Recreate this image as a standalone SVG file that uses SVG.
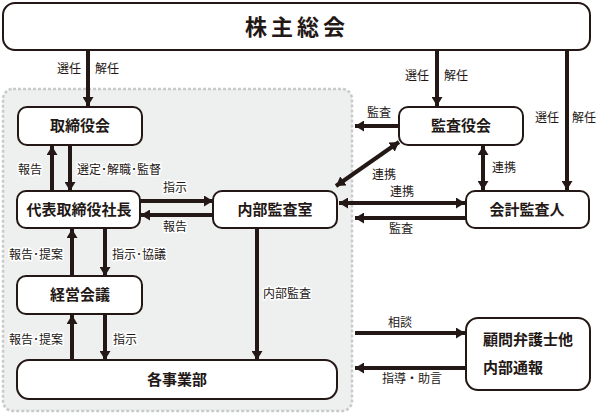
<svg xmlns="http://www.w3.org/2000/svg" width="600" height="415" viewBox="0 0 600 415">
<style>
.box{fill:#fff;stroke:#231815;stroke-width:2}
.ln{fill:none;stroke:#231815;stroke-width:4}
.t{font-family:"Noto Sans CJK JP","Noto Sans",sans-serif;font-weight:bold;font-size:15px;fill:#231815;text-anchor:middle}
.lb{font-family:"Noto Sans CJK JP","Noto Sans",sans-serif;font-size:12px;fill:#231815;stroke:#fff;stroke-width:3;paint-order:stroke;stroke-linejoin:round}
.e{text-anchor:end}
</style>
<defs>
<marker id="ah" viewBox="0 0 9 11" refX="9" refY="5.5" markerWidth="9" markerHeight="11" markerUnits="userSpaceOnUse" orient="auto-start-reverse">
<path d="M0,0 L9,5.5 L0,11 z" fill="#231815"/>
</marker>
</defs>
<rect x="3" y="89" width="349" height="322" rx="10" fill="#eeefef" stroke="#c9caca" stroke-width="2.5" stroke-dasharray="3 2"/>
<g id="connectors">
<path class="ln" d="M88,50 V106" marker-end="url(#ah)"/>
<path class="ln" d="M437,50 V106" marker-end="url(#ah)"/>
<path class="ln" d="M567,50 V190" marker-end="url(#ah)"/>
<path class="ln" d="M399,126 H355" marker-end="url(#ah)"/>
<path class="ln" d="M483,146 V190" marker-start="url(#ah)" marker-end="url(#ah)"/>
<path class="ln" d="M336,186 L399,142" marker-start="url(#ah)" marker-end="url(#ah)"/>
<path class="ln" d="M339,203 H465" marker-start="url(#ah)" marker-end="url(#ah)"/>
<path class="ln" d="M466,218 H355" marker-end="url(#ah)"/>
<path class="ln" d="M52,191 V146" marker-end="url(#ah)"/>
<path class="ln" d="M70,145 V191" marker-end="url(#ah)"/>
<path class="ln" d="M140,201 H213" marker-end="url(#ah)"/>
<path class="ln" d="M213,215 H141" marker-end="url(#ah)"/>
<path class="ln" d="M105,228 V276" marker-end="url(#ah)"/>
<path class="ln" d="M72,276 V229" marker-end="url(#ah)"/>
<path class="ln" d="M72,360 V315" marker-end="url(#ah)"/>
<path class="ln" d="M105,314 V360" marker-end="url(#ah)"/>
<path class="ln" d="M257,228 V360" marker-end="url(#ah)"/>
<path class="ln" d="M355,333 H465" marker-end="url(#ah)"/>
<path class="ln" d="M466,368 H355" marker-end="url(#ah)"/>
<text class="lb e" x="81" y="73">選任</text>
<text class="lb" x="95" y="73">解任</text>
<text class="lb e" x="429" y="80">選任</text>
<text class="lb" x="444" y="80">解任</text>
<text class="lb e" x="559" y="122">選任</text>
<text class="lb" x="572" y="122">解任</text>
<text class="lb" x="367" y="117">監査</text>
<text class="lb" x="492" y="172">連携</text>
<text class="lb" x="372" y="179">連携</text>
<text class="lb" x="390" y="196">連携</text>
<text class="lb" x="389" y="233">監査</text>
<text class="lb" x="18" y="174">報告</text>
<text class="lb" x="77" y="174">選定･解職･監督</text>
<text class="lb" x="163" y="192">指示</text>
<text class="lb" x="163" y="231">報告</text>
<text class="lb" x="9" y="259">報告･提案</text>
<text class="lb" x="112" y="259">指示･協議</text>
<text class="lb" x="9" y="344">報告･提案</text>
<text class="lb" x="113" y="344">指示</text>
<text class="lb" x="263" y="298">内部監査</text>
<text class="lb" x="388" y="327">相談</text>
<text class="lb" x="382" y="383">指導・助言</text>
</g>
<g id="shareholders">
<rect class="box" x="3" y="3" width="587" height="47" rx="12"/>
<text class="t" x="297" y="35" style="font-size:22px;letter-spacing:4px">株主総会</text>
</g>
<g id="board">
<rect class="box" x="18" y="107" width="124" height="38" rx="9"/>
<text class="t" x="80" y="131">取締役会</text>
</g>
<g id="auditors">
<rect class="box" x="399" y="107" width="124" height="38" rx="9"/>
<text class="t" x="461" y="131">監査役会</text>
</g>
<g id="president">
<rect class="box" x="17" y="191" width="123" height="37" rx="9"/>
<text class="t" x="79" y="215">代表取締役社長</text>
</g>
<g id="internal-audit">
<rect class="box" x="213" y="191" width="124" height="37" rx="9"/>
<text class="t" x="275" y="215">内部監査室</text>
</g>
<g id="accounting-auditor">
<rect class="box" x="466" y="191" width="123" height="37" rx="9"/>
<text class="t" x="527" y="215">会計監査人</text>
</g>
<g id="management-meeting">
<rect class="box" x="17" y="276" width="125" height="38" rx="9"/>
<text class="t" x="80" y="300">経営会議</text>
</g>
<g id="divisions">
<rect class="box" x="17" y="360" width="320" height="39" rx="12"/>
<text class="t" x="177" y="385">各事業部</text>
</g>
<g id="advisors">
<rect class="box" x="466" y="318" width="124" height="72" rx="12"/>
<text class="t" x="483" y="345" style="text-anchor:start">顧問弁護士他</text>
<text class="t" x="483" y="373" style="text-anchor:start">内部通報</text>
</g>
</svg>
